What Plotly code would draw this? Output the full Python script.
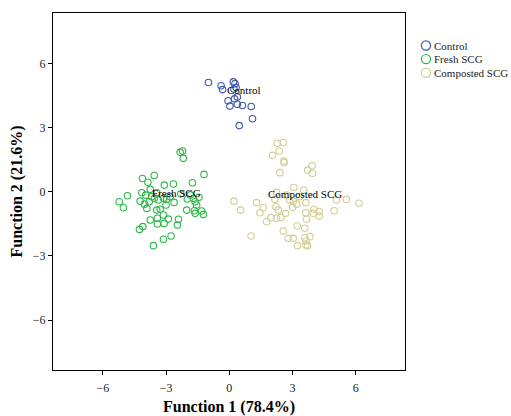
import plotly.graph_objects as go

# ---- data (discriminant function scores) ----
groups = ["Control", "Fresh SCG", "Composted SCG"]
colors = ["#3E58AC", "#2EB848", "#D3CE97"]

control_f1 = [-0.99, -0.39, -0.32, 0.19, 0.27, 0.32, -0.06, 0.03, 0.25, 0.38, 0.38, 0.62, 1.04, 1.10, 0.47, 0.22]
control_f2 = [5.10, 4.95, 4.77, 5.13, 5.05, 4.87, 4.25, 4.00, 4.34, 4.43, 4.09, 4.03, 3.98, 3.41, 3.09, 4.80]

fresh_f1 = [-2.33, -2.22, -2.18, -1.20, -3.56, -4.12, -3.86, -3.08, -2.65, -1.75, -3.75, -4.15,
            -3.96, -4.83, -5.22, -5.02, -4.23, -4.02, -3.80, -3.55, -3.12, -2.97, -3.00, -2.62,
            -1.99, -1.70, -1.44, -1.62, -1.55, -2.02, -1.66, -1.31, -1.62, -1.23, -3.91, -3.44,
            -3.28, -3.12, -3.75, -3.41, -3.41, -3.09, -2.89, -2.41, -2.46, -4.26, -4.10, -3.12,
            -2.76, -3.60, -3.36, -3.68, -2.81, -3.44, -2.30, -1.85]
fresh_f2 = [1.84, 1.90, 1.56, 0.81, 0.76, 0.62, 0.44, 0.31, 0.36, 0.42, 0.11, -0.05,
            -0.16, -0.19, -0.47, -0.75, -0.44, -0.58, -0.47, -0.31, -0.31, -0.36, -0.62, -0.50,
            -0.34, -0.31, -0.26, -0.47, -0.62, -0.86, -0.89, -0.90, -1.01, -1.06, -0.78, -0.86,
            -0.82, -1.09, -1.32, -1.24, -1.51, -1.48, -1.28, -1.29, -1.56, -1.76, -1.63, -2.22,
            -2.07, -2.52, -0.39, -0.23, -0.23, -0.05, -0.10, -0.15]

comp_f1 = [2.27, 2.56, 2.37, 2.05, 2.59, 2.60, 2.40, 3.71, 3.93, 3.94, 3.06, 3.53, 2.24,
           0.22, 0.54, 1.29, 1.61, 1.45, 1.77, 1.97, 2.21, 2.32, 2.44, 2.67, 2.16, 3.03,
           3.19, 3.63, 3.00, 3.63, 4.01, 4.26, 4.26, 3.66, 3.22, 3.58, 5.08, 5.55, 6.15,
           4.97, 2.56, 1.03, 2.79, 3.03, 3.58, 3.82, 3.63, 3.23, 3.63, 3.71, 2.71, 3.34,
           2.87, 3.97, 2.24]
comp_f2 = [2.26, 2.30, 1.90, 1.70, 1.43, 1.35, 0.89, 1.01, 1.21, 0.86, 0.20, 0.08, -0.03,
           -0.44, -0.86, -0.51, -0.75, -0.98, -1.40, -1.21, -0.70, -0.86, -1.20, -1.01, -0.36, -0.44,
           -0.58, -0.51, -0.73, -0.98, -0.82, -0.93, -1.14, -1.29, -1.60, -1.71, -0.39, -0.36, -0.54,
           -0.89, -1.84, -2.07, -2.18, -2.18, -2.15, -2.10, -2.30, -2.52, -2.49, -2.52, -0.16, -0.23,
           -0.39, -1.01, -1.24]

label_f1 = [0.71, -2.52, 3.58]
label_f2 = [4.77, -0.05, -0.12]

ticks = [-6, -3, 0, 3, 6]
x_title = "Function 1 (78.4%)"
y_title = "Function 2 (21.6%)"

series_x = [control_f1, fresh_f1, comp_f1]
series_y = [control_f2, fresh_f2, comp_f2]

FONT = "Liberation Serif, Times New Roman, serif"

fig = go.Figure()
for name, col, xs, ys in zip(groups, colors, series_x, series_y):
    fig.add_trace(go.Scatter(
        x=xs, y=ys, mode="markers", name=name, showlegend=False,
        marker=dict(symbol="circle-open", size=6.5, color=col, line=dict(width=1.1, color=col)),
    ))

for name, lx, ly in zip(groups, label_f1, label_f2):
    fig.add_annotation(x=lx, y=ly, text=name, showarrow=False,
                       font=dict(family=FONT, size=11, color="black"))

W, H = 511, 416
L, R, T, B = 53, 106, 13, 46
pw, ph = W - L - R, H - T - B
leg_cx, leg_y0, leg_dy, rad = 426, 45.5, 13.6, 4.6
for i, (name, col) in enumerate(zip(groups, colors)):
    cy = leg_y0 + i * leg_dy
    px = (leg_cx - L) / pw
    py = (H - B - cy) / ph
    fig.add_shape(type="circle", xref="paper", yref="paper",
                  x0=px - rad / pw, x1=px + rad / pw, y0=py - rad / ph, y1=py + rad / ph,
                  line=dict(color=col, width=1.2), fillcolor="rgba(0,0,0,0)")
    fig.add_annotation(xref="paper", yref="paper", x=(leg_cx + 6 - L) / pw, y=py,
                       xanchor="left", yanchor="middle", text=name, showarrow=False,
                       font=dict(family=FONT, size=11, color="#222"))

axis_common = dict(tickvals=ticks, showgrid=False, zeroline=False,
                   showline=True, linecolor="black", linewidth=1, mirror=True,
                   ticks="outside", ticklen=4, tickcolor="black",
                   tickfont=dict(family=FONT, size=12, color="#222"))

fig.update_layout(
    width=W, height=H,
    margin=dict(l=L, r=R, t=T, b=B, autoexpand=False),
    paper_bgcolor="white", plot_bgcolor="white",
    font=dict(family=FONT),
    xaxis=dict(axis_common, range=[-8.36, 8.33], ticklabelstandoff=3,
               title=dict(text=x_title, standoff=14,
                          font=dict(family=FONT, size=16, color="black", weight="bold"))),
    yaxis=dict(axis_common, range=[-8.33, 8.35],
               title=dict(text=y_title, standoff=6,
                          font=dict(family=FONT, size=16, color="black", weight="bold"))),
)

fig.write_html(
    "out.html",
    config={"displayModeBar": False},
    post_script="document.body.style.margin='0';document.body.style.overflow='hidden';",
)
